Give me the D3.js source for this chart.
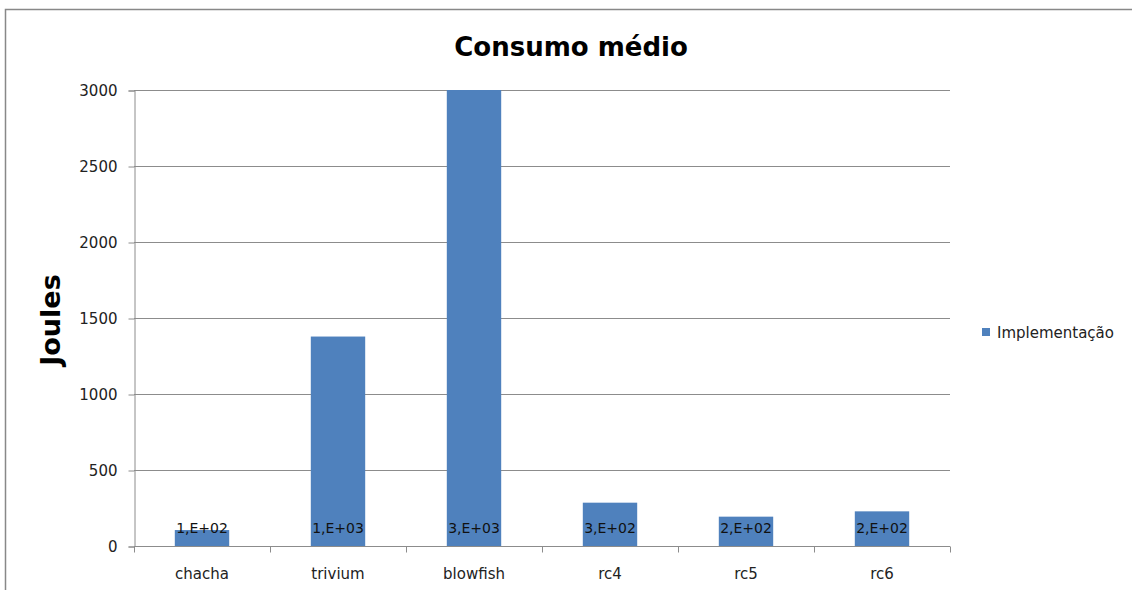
<!DOCTYPE html>
<html><head><meta charset="utf-8">
<script src="https://cdn.jsdelivr.net/npm/d3@7"></script>
<style>body{margin:0;background:#fff}svg{display:block}</style>
</head><body>
<svg id="c" width="1132" height="590"></svg>
<script>
const categories = ["chacha","trivium","blowfish","rc4","rc5","rc6"];
const values = [105, 1378, 3000, 285, 193, 228];
const valueLabels = ["1,E+02","1,E+03","3,E+03","3,E+02","2,E+02","2,E+02"];
const yTicks = [0,500,1000,1500,2000,2500,3000];
const seriesName = "Implementação";
const title = "Consumo médio";
const yTitle = "Joules";

const svg = d3.select("#c");
const font = "'DejaVu Sans', sans-serif";
// outer border
svg.append("path").attr("d","M5.5,600 V9.5 H1140").attr("fill","none").attr("stroke","#888").attr("stroke-width",1.5);

const L=134, R=950, T=90, B=546;
const x = d3.scaleBand().domain(categories).range([L,R]).paddingInner(0.6).paddingOuter(0.3);
const y = d3.scaleLinear().domain([0,3000]).range([B,T]);

// gridlines
svg.append("g").selectAll("line").data(yTicks.filter(d=>d>0)).join("line")
  .attr("x1",L).attr("x2",R).attr("y1",d=>y(d)+0.5).attr("y2",d=>y(d)+0.5)
  .attr("stroke","#8c8c8c").attr("stroke-width",1);

// y axis
const ya = svg.append("g").attr("transform",`translate(${L+0.5},0.5)`)
  .call(d3.axisLeft(y).tickValues(yTicks).tickSize(6).tickPadding(11).tickFormat(d3.format("d")));
ya.select(".domain").attr("stroke","#8c8c8c");
ya.selectAll(".tick line").attr("stroke","#8c8c8c");
ya.selectAll("text").attr("font-family",font).attr("font-size",15).attr("fill","#222");

// bars
svg.append("g").selectAll("rect").data(values).join("rect")
  .attr("x",(d,i)=>x(categories[i])).attr("width",x.bandwidth())
  .attr("y",d=>y(d)).attr("height",d=>B-y(d)).attr("fill","#4F81BD");

// x axis
const xa = svg.append("g").attr("transform",`translate(0,${B+0.5})`);
xa.append("line").attr("x1",L).attr("x2",R).attr("stroke","#8c8c8c");
xa.selectAll("line.t").data(d3.range(categories.length+1)).join("line").attr("class","t")
  .attr("x1",i=>L+i*(R-L)/categories.length+0.5).attr("x2",i=>L+i*(R-L)/categories.length+0.5)
  .attr("y1",0).attr("y2",6).attr("stroke","#8c8c8c");
xa.selectAll("text").data(categories).join("text")
  .attr("x",d=>x(d)+x.bandwidth()/2).attr("y",32).attr("text-anchor","middle")
  .attr("font-family",font).attr("font-size",15).attr("fill","#222").text(d=>d);

// value labels
svg.append("g").selectAll("text").data(valueLabels).join("text")
  .attr("x",(d,i)=>x(categories[i])+x.bandwidth()/2).attr("y",B-13)
  .attr("text-anchor","middle").attr("font-family",font).attr("font-size",14).attr("fill","#111").text(d=>d);

// title
svg.append("text").attr("x",571).attr("y",56).attr("text-anchor","middle")
  .attr("font-family",font).attr("font-weight","bold").attr("font-size",26).attr("fill","#000").text(title);
svg.append("text").attr("transform","translate(60,320) rotate(-90)").attr("text-anchor","middle")
  .attr("font-family",font).attr("font-weight","bold").attr("font-size",27).attr("fill","#000").text(yTitle);

// legend
svg.append("rect").attr("x",982).attr("y",328).attr("width",8).attr("height",8).attr("fill","#4F81BD");
svg.append("text").attr("x",997).attr("y",338).attr("font-family",font).attr("font-size",15).attr("fill","#222").text(seriesName);
</script>
</body></html>
